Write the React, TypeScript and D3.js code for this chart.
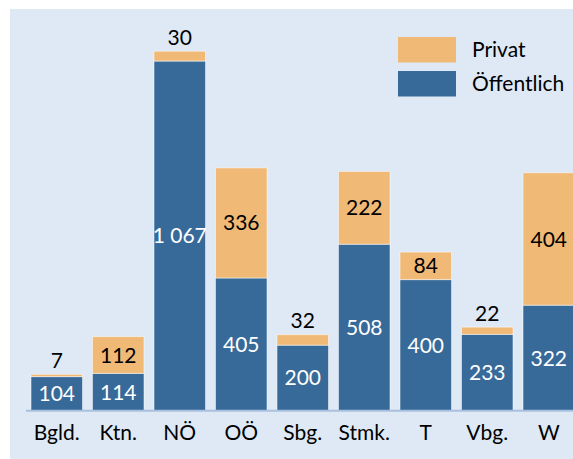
import React from "react";
import * as d3 from "d3";

const categories = ["Bgld.", "Ktn.", "NÖ", "OÖ", "Sbg.", "Stmk.", "T", "Vbg.", "W"];
const oeffentlich = [104, 114, 1067, 405, 200, 508, 400, 233, 322];
const privat = [7, 112, 30, 336, 32, 222, 84, 22, 404];
const seriesNames = ["Privat", "Öffentlich"];

const W = 573;
const H = 459;
const BLUE = "#376a99";
const ORANGE = "#f0b976";
const BG = "#dee9f5";
const FONT = "Lato, 'Open Sans', sans-serif";

export default function App() {
  const x = d3.scaleBand<string>().domain(categories).range([26, 26 + 9 * 61.5]).paddingInner(10 / 61.5).paddingOuter(5 / 61.5 / 2);
  const x2 = d3.scaleBand<string>().domain(categories).range([26, 26 + 9 * 61.5]).padding(0);
  const y = d3.scaleLinear().domain([0, 1100]).range([410.7, 410.7 - 1100 * 0.3277]);
  const fmt = (v: number) => d3.format(",")(v).replace(/,/g, " ");
  const bw = 51.5;
  const bx = (c: string) => (x2(c) as number) + (61.5 - bw) / 2;

  return (
    <div style={{ position: "fixed", left: 0, top: 0 }}>
      <svg width={W} height={H} style={{ display: "block" }}>
        <rect x={10} y={9} width={W - 10} height={H - 9} fill={BG} />
        {categories.map((c, i) => {
          const o = oeffentlich[i];
          const p = privat[i];
          const xb = bx(c);
          const yo = y(o);
          const yp = y(o + p);
          const ph = yo - yp;
          const inside = ph > 22;
          return (
            <g key={c}>
              <rect x={xb} y={yo} width={bw} height={y(0) - yo} fill={BLUE} stroke="#ffffff" strokeOpacity={0.5} strokeWidth={1} />
              <rect x={xb} y={yp} width={bw} height={ph} fill={ORANGE} stroke="#ffffff" strokeOpacity={0.5} strokeWidth={1} />
              <text x={xb + bw / 2} y={(yo + y(0)) / 2} dy="0.36em" textAnchor="middle" fill="#ffffff" fontFamily={FONT} fontSize={21}>
                {fmt(o)}
              </text>
              <text x={xb + bw / 2} y={inside ? (yo + yp) / 2 : yp - 14} dy="0.36em" textAnchor="middle" fill="#000000" fontFamily={FONT} fontSize={21}>
                {fmt(p)}
              </text>
              <text x={xb + bw / 2} y={440} textAnchor="middle" fill="#000000" fontFamily={FONT} fontSize={21}>
                {c}
              </text>
            </g>
          );
        })}
        <line x1={26} x2={W} y1={410.7} y2={410.7} stroke="#a8c0de" strokeWidth={2} />
        {seriesNames.map((s, i) => (
          <g key={s} transform={`translate(398, ${37 + i * 34})`}>
            <rect width={58} height={25.5} fill={i === 0 ? ORANGE : BLUE} />
            <text x={74} y={12.75} dy="0.36em" fill="#000000" fontFamily={FONT} fontSize={21}>
              {s}
            </text>
          </g>
        ))}
      </svg>
    </div>
  );
}
